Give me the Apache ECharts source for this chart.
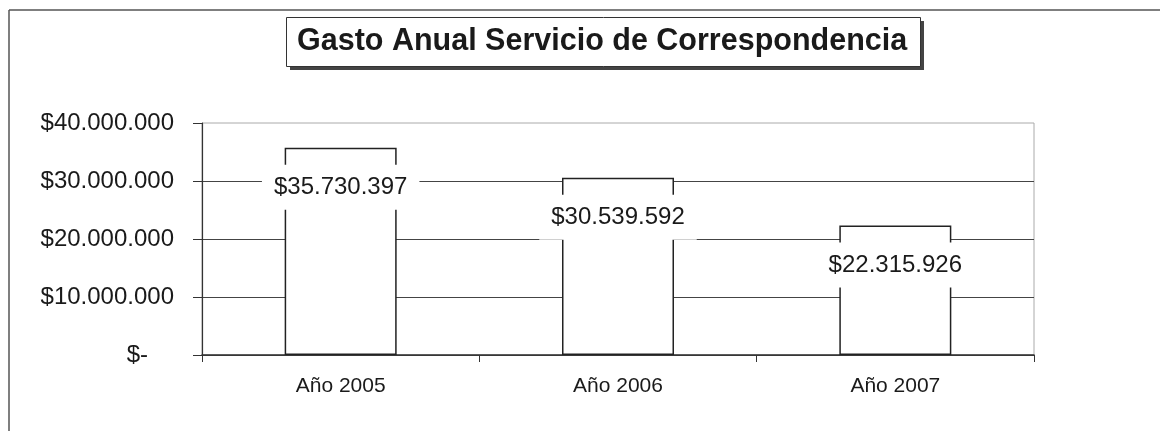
<!DOCTYPE html>
<html>
<head>
<meta charset="utf-8">
<script src="https://cdn.jsdelivr.net/npm/echarts@6/dist/echarts.min.js"></script>
<style>
  html, body { margin: 0; padding: 0; background: #fff; }
  #chart { width: 1160px; height: 431px; }
</style>
</head>
<body>
<div id="chart"></div>
<script>
// Annual mail-service spending, Chilean peso format
const titleText = 'Gasto Anual Servicio de Correspondencia';
const categories = ['Año 2005', 'Año 2006', 'Año 2007'];
const gasto = [35730397, 30539592, 22315926];
const yTicks = [0, 10000000, 20000000, 30000000, 40000000];

const FONT = "'Liberation Sans', Arial, sans-serif";
const INK = '#1a1a1a';

// 35730397 -> "$35.730.397"
function peso(v) {
  return '$' + String(Math.round(v)).replace(/\B(?=(\d{3})+(?!\d))/g, '.');
}

const chart = echarts.init(document.getElementById('chart'), null, { renderer: 'canvas' });

chart.setOption({
  backgroundColor: '#fff',
  animation: false,
  title: {
    text: titleText,
    left: 297,
    top: 25,
    padding: 0,
    textStyle: { fontFamily: FONT, fontSize: 30.5, fontWeight: 'bold', color: INK, lineHeight: 33 }
  },
  graphic: [
    // outer frame (top and left edges)
    { type: 'line', z: -10, shape: { x1: 9, y1: 10, x2: 1160, y2: 10 }, style: { stroke: '#555', lineWidth: 1.5 } },
    { type: 'line', z: -10, shape: { x1: 9, y1: 10, x2: 9, y2: 431 }, style: { stroke: '#555', lineWidth: 1.5 } },
    // title box with drop shadow
    { type: 'rect', z: -5, shape: { x: 290, y: 21, width: 634, height: 49 }, style: { fill: '#444' } },
    { type: 'rect', z: -4, shape: { x: 286.5, y: 17.5, width: 634, height: 49 }, style: { fill: '#fff', stroke: '#333', lineWidth: 1 } }
  ],
  grid: {
    left: 202, right: 126, top: 123, bottom: 76,
    show: true, borderColor: '#aaa', borderWidth: 1, backgroundColor: 'transparent'
  },
  xAxis: {
    type: 'category',
    data: categories,
    boundaryGap: true,
    axisLine: { lineStyle: { color: '#333', width: 1.5 } },
    axisTick: { show: true, alignWithLabel: false, length: 7, lineStyle: { color: '#333' } },
    axisLabel: { fontFamily: FONT, fontSize: 21, color: INK, margin: 21 }
  },
  yAxis: {
    type: 'value',
    min: yTicks[0],
    max: yTicks[yTicks.length - 1],
    interval: yTicks[1] - yTicks[0],
    axisLine: { show: true, lineStyle: { color: '#333', width: 1.2 } },
    axisTick: { show: true, length: 9, lineStyle: { color: '#333' } },
    splitLine: { show: true, showMaxLine: false, lineStyle: { color: '#444', width: 1 } },
    axisLabel: {
      fontFamily: FONT, fontSize: 24, color: INK, margin: 28,
      formatter: v => v === 0 ? '{z|$-}' : peso(v),
      rich: { z: { fontFamily: FONT, fontSize: 24, color: INK, padding: [0, 26, 0, 0] } }
    }
  },
  series: [{
    type: 'bar',
    data: gasto,
    barWidth: 112,
    itemStyle: { color: '#fff', borderColor: '#222', borderWidth: 1.5 },
    label: {
      show: true,
      position: 'insideTop',
      distance: 17,
      formatter: p => peso(p.value),
      fontFamily: FONT,
      fontSize: 24,
      color: INK,
      backgroundColor: '#fff',
      padding: [11, 12, 10, 12]
    }
  }]
});
</script>
</body>
</html>
